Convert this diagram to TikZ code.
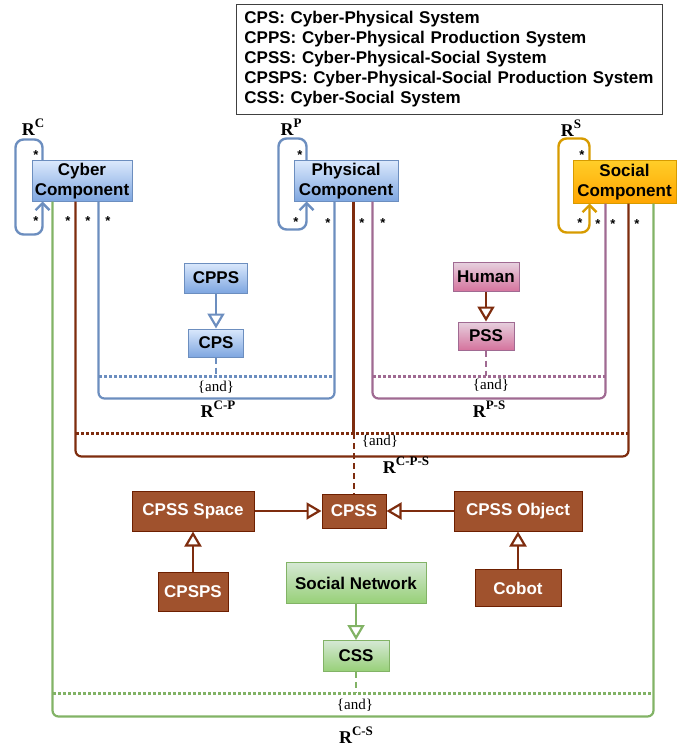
\documentclass[tikz,border=0pt]{standalone}
\usepackage{fontspec}
\setmainfont{Liberation Serif}
\newfontfamily\sansb{Liberation Sans}
\usetikzlibrary{arrows.meta,calc,positioning}
\definecolor{cybline}{HTML}{6C8EBF}
\definecolor{cybtop}{HTML}{DAE8FC}
\definecolor{cybbot}{HTML}{7EA6E0}
\definecolor{socline}{HTML}{D79B00}
\definecolor{soctop}{HTML}{FFCD28}
\definecolor{socbot}{HTML}{FFA500}
\definecolor{humline}{HTML}{A06A92}
\definecolor{humtop}{HTML}{E6D0DE}
\definecolor{humbot}{HTML}{D5739D}
\definecolor{cpssline}{HTML}{6D1F00}
\definecolor{cpssrel}{HTML}{7E2C0E}
\definecolor{cpsstop}{HTML}{A0522D}
\definecolor{cpssbot}{HTML}{A0522D}
\definecolor{netline}{HTML}{82B366}
\definecolor{nettop}{HTML}{D5E8D4}
\definecolor{netbot}{HTML}{97D077}
\newcommand{\relname}[1]{{\rmfamily\bfseries\fontsize{18}{18}\selectfont R\raisebox{0.42em}{\fontsize{13}{13}\selectfont #1}}}

\begin{document}
\begin{tikzpicture}[x=1pt,y=-1pt,
  every node/.style={font=\sansb\bfseries\fontsize{17}{20}\selectfont},
  box/.style={draw=#1line,top color=#1top,bottom color=#1bot,line width=1pt,align=center,inner sep=0pt},
  rel/.style={draw=#1,line width=2.2pt,rounded corners=6pt},
  dots/.style={draw=#1,line width=3pt,dash pattern=on 2.6pt off 2.4pt},
  dashes/.style={draw=#1,line width=2.4pt,dash pattern=on 6pt off 4pt},
  selfrel/.style={draw=#1,line width=2.4pt,rounded corners=8pt,-{Straight Barb[length=7pt,width=14pt]}},
  isa/.style={draw=#1,line width=2.2pt,-{Triangle[open,length=15pt,width=17pt]}},
  mult/.style={font=\sansb\bfseries\fontsize{13}{13}\selectfont,inner sep=0pt},
  andlbl/.style={font=\rmfamily\fontsize{15}{15}\selectfont,inner sep=1pt}]
  \useasboundingbox (0,0) rectangle (686,746);

  \node[draw=black!75,line width=0.8pt,anchor=north west,text width=410,inner xsep=8pt,minimum height=110,align=left] (legend) at (236,4)
    {CPS: Cyber-Physical System\\CPPS: Cyber-Physical Production System\\CPSS: Cyber-Physical-Social System\\CPSPS: Cyber-Physical-Social Production System\\CSS: Cyber-Social System};

  \node[box=cyb,minimum width=100,minimum height=40] (cyber) at (82,181) {Cyber\\Component};
  \node[box=cyb,minimum width=104,minimum height=40] (phys) at (346,181) {Physical\\Component};
  \node[box=soc,minimum width=103,minimum height=42] (social) at (624.5,182) {Social\\Component};
  \node[box=cyb,minimum width=63,minimum height=30] (cpps) at (216,278) {CPPS};
  \node[box=cyb,minimum width=55,minimum height=28] (cps) at (216,343) {CPS};
  \node[box=hum,minimum width=66,minimum height=29] (human) at (486,277) {Human};
  \node[box=hum,minimum width=56,minimum height=28] (pss) at (486,336) {PSS};
  \node[box=cpss,text=white,minimum width=122,minimum height=40] (space) at (193,511) {CPSS Space};
  \node[box=cpss,text=white,minimum width=64,minimum height=34] (cpss) at (354,511) {CPSS};
  \node[box=cpss,text=white,minimum width=128,minimum height=40] (object) at (518,511) {CPSS Object};
  \node[box=cpss,text=white,minimum width=70,minimum height=39] (cpsps) at (193,592) {CPSPS};
  \node[box=cpss,text=white,minimum width=86,minimum height=37] (cobot) at (518,588) {Cobot};
  \node[box=net,minimum width=140,minimum height=41] (socnet) at (356,583) {Social Network};
  \node[box=net,minimum width=66,minimum height=31] (css) at (356,656) {CSS};

  \draw[rel=netline] ([xshift=21pt]cyber.south west) -- ++(0,515) -| ([xshift=81pt]social.south west);
  \draw[rel=cpssrel] ([xshift=44pt]cyber.south west) -- ++(0,255) -| ([xshift=56pt]social.south west);
  \draw[rel=cpssrel] ([xshift=60pt]phys.south west) -- ++(0,232);
  \draw[rel=cybline] ([xshift=67pt]cyber.south west) -- ++(0,197) -| ([xshift=41pt]phys.south west);
  \draw[rel=humline] ([xshift=79pt]phys.south west) -- ++(0,197) -| ([xshift=33pt]social.south west);

  \coordinate (cpL) at (99,376);  \coordinate (cpR) at (335,376);
  \coordinate (psL) at (373,376); \coordinate (psR) at (606,376);
  \coordinate (cpsL) at (76,433); \coordinate (cpsR) at (629,433);
  \coordinate (csL) at (53,693);  \coordinate (csR) at (654,693);
  \draw[dots=cybline] (cpL) -- (cpR);
  \draw[dots=humline] (psL) -- (psR);
  \draw[dots=cpssrel] (cpsL) -- (cpsR);
  \draw[dots=netline] (csL) -- (csR);
  \draw[dashes=cybline] (cps.south) -- (cps.south |- cpL);
  \draw[dashes=humline] (pss.south) -- (pss.south |- psL);
  \draw[dashes=cpssrel] (cpss.north |- cpsL) -- (cpss.north);
  \draw[dashes=netline] (css.south) -- (css.south |- csL);

  \draw[isa=cybline] (cpps) -- (cps);
  \draw[isa=cpssrel] (human) -- (pss);
  \draw[isa=cpssrel] (space) -- (cpss);
  \draw[isa=cpssrel] (object) -- (cpss);
  \draw[isa=cpssrel] (cpsps) -- (space);
  \draw[isa=cpssrel] (cobot) -- (object);
  \draw[isa=netline] (socnet) -- (css);

  \draw[selfrel=cybline] ([xshift=11pt]cyber.north west) -- ++(0,-21) -- ++(-27,0) -- ++(0,95) -- ++(27,0) -- ([xshift=11pt]cyber.south west);
  \draw[selfrel=cybline] ([xshift=13pt]phys.north west) -- ++(0,-22) -- ++(-28,0) -- ++(0,91) -- ++(28,0) -- ([xshift=13pt]phys.south west);
  \draw[selfrel=socline] ([xshift=17pt]social.north west) -- ++(0,-22) -- ++(-31,0) -- ++(0,94) -- ++(31,0) -- ([xshift=17pt]social.south west);

  \node (rc) at (33,127) {\relname{C}};
  \node (rp) at (291,127) {\relname{P}};
  \node (rs) at (571,128) {\relname{S}};
  \foreach \x/\y [count=\i] in {36/155,36/221,68/221,88/221,108/221,300/155,296/222,328/223,362/223,383/223,582/155,580/223,598/224,613/224,637/224}
    \node[mult] (m\i) at (\x,\y) {*};

  \node[andlbl] (andcp) at (216,387) {\{and\}};
  \node[andlbl] (andps) at (491,385) {\{and\}};
  \node[andlbl] (andcps) at (380,441) {\{and\}};
  \node[andlbl] (andcs) at (355,705) {\{and\}};
  \node (rcp) at (218,409) {\relname{C-P}};
  \node (rps) at (489,409) {\relname{P-S}};
  \node (rcps) at (406,465) {\relname{C-P-S}};
  \node (rcs) at (356,735) {\relname{C-S}};
\end{tikzpicture}
\end{document}
